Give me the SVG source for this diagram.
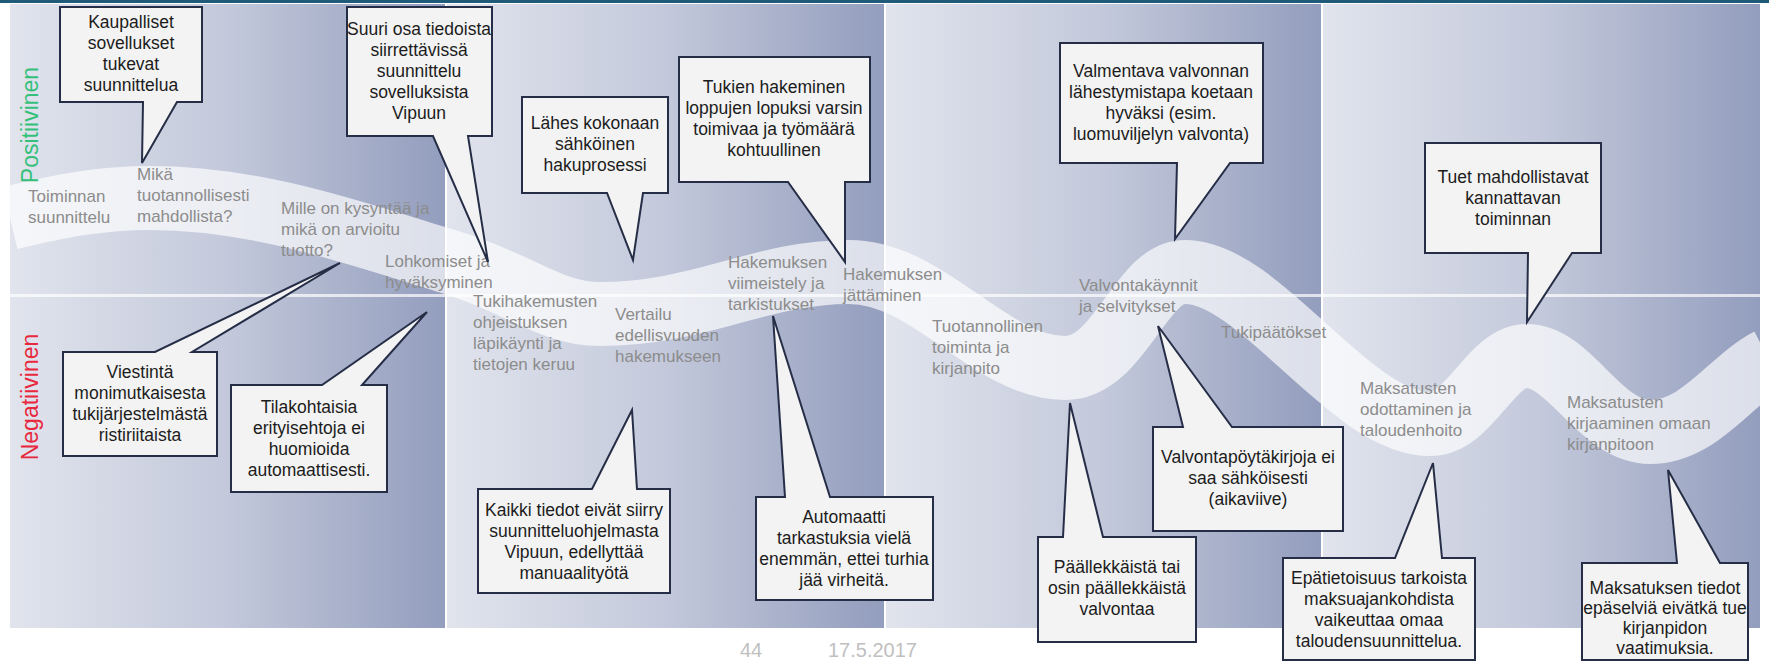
<svg xmlns="http://www.w3.org/2000/svg" width="1769" height="661" viewBox="0 0 1769 661">
<defs>
<linearGradient id="pg" x1="0" y1="0" x2="1" y2="0">
<stop offset="0" stop-color="#e1e4ed"/>
<stop offset="0.5" stop-color="#c3c9db"/>
<stop offset="1" stop-color="#939dbd"/>
</linearGradient>
<style>
.panel{fill:url(#pg)}
.bubble{fill:#f3f3f3;stroke:#262e47;stroke-width:2;stroke-linejoin:miter}
.bt{font-family:"Liberation Sans",Arial,sans-serif;font-size:17.5px;fill:#1c1c1c;text-anchor:middle}
.lab{font-family:"Liberation Sans",Arial,sans-serif;font-size:17px;fill:#8c8c8c}
.side{font-family:"Liberation Sans",Arial,sans-serif;font-size:23px;text-anchor:middle}
.foot{font-family:"Liberation Sans",Arial,sans-serif;font-size:20px;fill:#bfbfbf}
</style>
</defs>
<rect width="1769" height="661" fill="#ffffff"/>
<g id="panels">
<rect class="panel" x="10" y="4" width="435" height="624"/>
<rect class="panel" x="447" y="4" width="437" height="624"/>
<rect class="panel" x="886" y="4" width="435" height="624"/>
<rect class="panel" x="1323" y="4" width="437" height="624"/>
<rect x="0" y="0" width="1769" height="3" fill="#1f5a78"/>
<rect x="10" y="294" width="1750" height="3" fill="#ffffff" opacity="0.7"/>
</g>
<g id="connectors">
<path d="M10,218 C60,206 100,198 150,198 C260,198 360,235 450,262 C520,283 550,314 600,314 C700,314 760,272 849,272 C930,272 990,368 1065,368 C1120,368 1140,272 1185,272 C1260,272 1350,424 1430,424 C1470,424 1490,356 1527,356 C1570,356 1600,432 1650,432 C1700,432 1730,380 1769,360" fill="none" stroke="#ffffff" stroke-width="64" opacity="0.68"/>
</g>
<g id="side-labels">
<text class="side" fill="#35c07a" transform="translate(38,125) rotate(-90)">Positiivinen</text>
<text class="side" fill="#e8283c" transform="translate(38,397) rotate(-90)">Negatiivinen</text>
</g>
<g id="stages">
<g id="s1"><text class="lab"><tspan x="28" y="202">Toiminnan</tspan><tspan x="28" y="223">suunnittelu</tspan></text></g>
<g id="s2"><text class="lab"><tspan x="137" y="180">Mikä</tspan><tspan x="137" y="201">tuotannollisesti</tspan><tspan x="137" y="222">mahdollista?</tspan></text></g>
<g id="s3"><text class="lab"><tspan x="281" y="214">Mille on kysyntää ja</tspan><tspan x="281" y="235">mikä on arvioitu</tspan><tspan x="281" y="256">tuotto?</tspan></text></g>
<g id="s4"><text class="lab"><tspan x="385" y="267">Lohkomiset ja</tspan><tspan x="385" y="288">hyväksyminen</tspan></text></g>
<g id="s5"><text class="lab"><tspan x="473" y="307">Tukihakemusten</tspan><tspan x="473" y="328">ohjeistuksen</tspan><tspan x="473" y="349">läpikäynti ja</tspan><tspan x="473" y="370">tietojen keruu</tspan></text></g>
<g id="s6"><text class="lab"><tspan x="615" y="320">Vertailu</tspan><tspan x="615" y="341">edellisvuoden</tspan><tspan x="615" y="362">hakemukseen</tspan></text></g>
<g id="s7"><text class="lab"><tspan x="728" y="268">Hakemuksen</tspan><tspan x="728" y="289">viimeistely ja</tspan><tspan x="728" y="310">tarkistukset</tspan></text></g>
<g id="s8"><text class="lab"><tspan x="843" y="280">Hakemuksen</tspan><tspan x="843" y="301">jättäminen</tspan></text></g>
<g id="s9"><text class="lab"><tspan x="932" y="332">Tuotannollinen</tspan><tspan x="932" y="353">toiminta ja</tspan><tspan x="932" y="374">kirjanpito</tspan></text></g>
<g id="s10"><text class="lab"><tspan x="1079" y="291">Valvontakäynnit</tspan><tspan x="1079" y="312">ja selvitykset</tspan></text></g>
<g id="s11"><text class="lab"><tspan x="1221" y="338">Tukipäätökset</tspan></text></g>
<g id="s12"><text class="lab"><tspan x="1360" y="394">Maksatusten</tspan><tspan x="1360" y="415">odottaminen ja</tspan><tspan x="1360" y="436">taloudenhoito</tspan></text></g>
<g id="s13"><text class="lab"><tspan x="1567" y="408">Maksatusten</tspan><tspan x="1567" y="429">kirjaaminen omaan</tspan><tspan x="1567" y="450">kirjanpitoon</tspan></text></g>
</g>
<g id="callouts">
<g id="c1"><path class="bubble" d="M60,7 H202 V102 H177 L142,163 L143,102 H60 Z"/><text class="bt"><tspan x="131" y="28">Kaupalliset</tspan><tspan x="131" y="49">sovellukset</tspan><tspan x="131" y="70">tukevat</tspan><tspan x="131" y="91">suunnittelua</tspan></text></g>
<g id="c2"><path class="bubble" d="M347,7 H492 V136 H468 L488,262 L433,136 H347 Z"/><text class="bt"><tspan x="419" y="35">Suuri osa tiedoista</tspan><tspan x="419" y="56">siirrettävissä</tspan><tspan x="419" y="77">suunnittelu</tspan><tspan x="419" y="98">sovelluksista</tspan><tspan x="419" y="119">Vipuun</tspan></text></g>
<g id="c3"><path class="bubble" d="M522,97 H668 V193 H643 L633,260 L607,193 H522 Z"/><text class="bt"><tspan x="595" y="129">Lähes kokonaan</tspan><tspan x="595" y="150">sähköinen</tspan><tspan x="595" y="171">hakuprosessi</tspan></text></g>
<g id="c4"><path class="bubble" d="M679,57 H870 V182 H845 L845,262 L788,182 H679 Z"/><text class="bt"><tspan x="774" y="93">Tukien hakeminen</tspan><tspan x="774" y="114">loppujen lopuksi varsin</tspan><tspan x="774" y="135">toimivaa ja työmäärä</tspan><tspan x="774" y="156">kohtuullinen</tspan></text></g>
<g id="c5"><path class="bubble" d="M1060,43 H1263 V163 H1230 L1175,239 L1177,163 H1060 Z"/><text class="bt"><tspan x="1161" y="77">Valmentava valvonnan</tspan><tspan x="1161" y="98">lähestymistapa koetaan</tspan><tspan x="1161" y="119">hyväksi (esim.</tspan><tspan x="1161" y="140">luomuviljelyn valvonta)</tspan></text></g>
<g id="c6"><path class="bubble" d="M1425,143 H1601 V253 H1572 L1527,322 L1528,253 H1425 Z"/><text class="bt"><tspan x="1513" y="183">Tuet mahdollistavat</tspan><tspan x="1513" y="204">kannattavan</tspan><tspan x="1513" y="225">toiminnan</tspan></text></g>
<g id="c7"><path class="bubble" d="M63,352 H155 L340,263 L192,352 H217 V456 H63 Z"/><text class="bt"><tspan x="140" y="378">Viestintä</tspan><tspan x="140" y="399">monimutkaisesta</tspan><tspan x="140" y="420">tukijärjestelmästä</tspan><tspan x="140" y="441">ristiriitaista</tspan></text></g>
<g id="c8"><path class="bubble" d="M231,385 H322 L427,312 L362,385 H387 V492 H231 Z"/><text class="bt"><tspan x="309" y="413">Tilakohtaisia</tspan><tspan x="309" y="434">erityisehtoja ei</tspan><tspan x="309" y="455">huomioida</tspan><tspan x="309" y="476">automaattisesti.</tspan></text></g>
<g id="c9"><path class="bubble" d="M478,489 H592 L632,410 L637,489 H670 V593 H478 Z"/><text class="bt"><tspan x="574" y="516">Kaikki tiedot eivät siirry</tspan><tspan x="574" y="537">suunnitteluohjelmasta</tspan><tspan x="574" y="558">Vipuun, edellyttää</tspan><tspan x="574" y="579">manuaalityötä</tspan></text></g>
<g id="c10"><path class="bubble" d="M756,497 H785 L773,316 L830,497 H933 V600 H756 Z"/><text class="bt"><tspan x="844" y="523">Automaatti</tspan><tspan x="844" y="544">tarkastuksia vielä</tspan><tspan x="844" y="565">enemmän, ettei turhia</tspan><tspan x="844" y="586">jää virheitä.</tspan></text></g>
<g id="c11"><path class="bubble" d="M1038,537 H1063 L1070,403 L1103,537 H1196 V642 H1038 Z"/><text class="bt"><tspan x="1117" y="573">Päällekkäistä tai</tspan><tspan x="1117" y="594">osin päällekkäistä</tspan><tspan x="1117" y="615">valvontaa</tspan></text></g>
<g id="c12"><path class="bubble" d="M1153,427 H1183 L1158,326 L1232,427 H1343 V531 H1153 Z"/><text class="bt"><tspan x="1248" y="463">Valvontapöytäkirjoja ei</tspan><tspan x="1248" y="484">saa sähköisesti</tspan><tspan x="1248" y="505">(aikaviive)</tspan></text></g>
<g id="c13"><path class="bubble" d="M1283,558 H1395 L1433,463 L1442,558 H1475 V660 H1283 Z"/><text class="bt"><tspan x="1379" y="584">Epätietoisuus tarkoista</tspan><tspan x="1379" y="605">maksuajankohdista</tspan><tspan x="1379" y="626">vaikeuttaa omaa</tspan><tspan x="1379" y="647">taloudensuunnittelua.</tspan></text></g>
<g id="c14"><path class="bubble" d="M1582,563 H1677 L1668,470 L1720,563 H1748 V660 H1582 Z"/><text class="bt"><tspan x="1665" y="594">Maksatuksen tiedot</tspan><tspan x="1665" y="614">epäselviä eivätkä tue</tspan><tspan x="1665" y="634">kirjanpidon</tspan><tspan x="1665" y="654">vaatimuksia.</tspan></text></g>
</g>
<g id="footer">
<text class="foot" x="740" y="657">44</text>
<text class="foot" x="828" y="657">17.5.2017</text>
</g>
</svg>
